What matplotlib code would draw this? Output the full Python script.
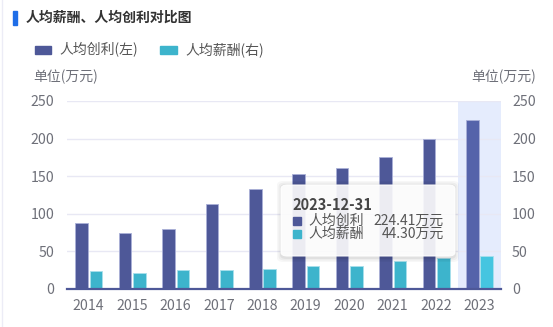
import matplotlib
matplotlib.use("Agg")
import matplotlib.pyplot as plt
from matplotlib.patches import FancyBboxPatch, Rectangle
import numpy as np

plt.rcParams['font.family'] = ['Noto Sans CJK SC', 'DejaVu Sans']

years = ['2014', '2015', '2016', '2017', '2018', '2019', '2020', '2021', '2022', '2023']
profit = [87.8, 74.0, 79.4, 113.0, 133.0, 152.5, 161.0, 175.0, 200.0, 224.41]
salary = [23.5, 21.7, 24.8, 24.8, 26.2, 30.0, 30.6, 36.8, 41.2, 44.30]
ticks = [0, 50, 100, 150, 200, 250]

W, H = 553, 327
fig = plt.figure(figsize=(W / 100, H / 100), dpi=100)
fig.patch.set_facecolor('white')

def fx(px):
    return px / W

def fy(py):
    return 1 - py / H

ax = fig.add_axes([fx(67), fy(289), fx(501) - fx(67), fy(101) - fy(289)])
ax2 = ax.twinx()

dark = '#4e5898'
cyan = '#3db4cc'
dark_hi = '#5563aa'
cyan_hi = '#45c5e0'

x = np.arange(len(years))
n = len(years)
ax.axvspan(n - 1.5, n - 0.5, color='#e5ecfd', zorder=0, lw=0)
for i in range(n):
    hi = i == n - 1
    ax.bar(x[i] - 0.163, profit[i], width=0.29, color=dark_hi if hi else dark,
           edgecolor='#aab0d8', linewidth=0.6, zorder=3)
    ax.bar(x[i] + 0.172, salary[i], width=0.29, color=cyan_hi if hi else cyan,
           edgecolor='#a8e0ec', linewidth=0.6, zorder=3)

ax.set_xlim(-0.5, n - 0.5)
ax.set_ylim(0, 250)
ax2.set_ylim(0, 250)
ax.set_yticks(ticks)
ax2.set_yticks(ticks)
ax.set_xticks(x)
ax.set_xticklabels(years)
ax.grid(axis='y', color='#e8e8f4', linewidth=1, zorder=1)
ax.set_axisbelow(True)
for a in (ax, ax2):
    for s in a.spines.values():
        s.set_visible(False)
    a.tick_params(length=0, labelsize=10.2, labelcolor='#6e7079')
ax.spines['bottom'].set_visible(True)
ax.spines['bottom'].set_color('#4e5898')
ax.spines['bottom'].set_linewidth(1.6)
ax.spines['bottom'].set_zorder(5)
ax.tick_params(axis='y', pad=9)
ax2.tick_params(axis='y', pad=8)
ax.tick_params(axis='x', pad=7)

# title
fig.patches.append(Rectangle((fx(13), fy(25)), fx(4), fy(11) - fy(25), color='#1f6ee8',
                             transform=fig.transFigure, figure=fig))
fig.text(fx(26), fy(18), '人均薪酬、人均创利对比图', fontsize=10, fontweight='bold',
         color='#333333', va='center', ha='left')
# left border line
fig.add_artist(plt.Line2D([fx(1.5), fx(1.5)], [0, 1], color='#ececf6', lw=1, transform=fig.transFigure))

# legend
fig.patches.append(Rectangle((fx(35), fy(54)), fx(16), fy(46) - fy(54), color=dark,
                             transform=fig.transFigure, figure=fig))
fig.text(fx(59), fy(49.5), '人均创利(左)', fontsize=10, color='#555555', va='center', ha='left')
fig.patches.append(Rectangle((fx(160), fy(54)), fx(17), fy(46) - fy(54), color=cyan,
                             transform=fig.transFigure, figure=fig))
fig.text(fx(185), fy(49.5), '人均薪酬(右)', fontsize=10, color='#555555', va='center', ha='left')

# units
fig.text(fx(33), fy(77), '单位(万元)', fontsize=10, color='#6e7079', va='center', ha='left')
fig.text(fx(536), fy(77), '单位(万元)', fontsize=10, color='#6e7079', va='center', ha='right')

# tooltip
for k, a in enumerate([0.05, 0.04, 0.03]):
    sh = FancyBboxPatch((fx(281 - 1 - k * 1.5), fy(257 + 2 + k * 1.5)),
                        fx(174 + 2 + k * 3), fy(185) - fy(257 + 3 + k * 3),
                        boxstyle='round,pad=0,rounding_size=0.012', transform=fig.transFigure,
                        facecolor='#000000', alpha=a, edgecolor='none', zorder=9)
    fig.add_artist(sh)
tip = FancyBboxPatch((fx(281), fy(256)), fx(174), fy(185) - fy(256),
                     boxstyle='round,pad=0,rounding_size=0.012', transform=fig.transFigure,
                     facecolor='white', alpha=0.9, edgecolor='#ffffff', lw=0.8, zorder=10)
fig.add_artist(tip)
fig.text(fx(292), fy(205), '2023-12-31', fontsize=10.5, fontweight='bold', color='#464646',
         va='center', ha='left', zorder=11)
rows = [('人均创利', '%.2f万元' % profit[-1], dark, 220.5),
        ('人均薪酬', '%.2f万元' % salary[-1], cyan, 233.5)]
for name, val, c, yy in rows:
    fig.add_artist(Rectangle((fx(293), fy(yy + 4)), fx(8), fy(yy - 4) - fy(yy + 4), color=c,
                             transform=fig.transFigure, zorder=11))
    fig.text(fx(308), fy(yy), name, fontsize=10, color='#555555', va='center', ha='left', zorder=11)
    fig.text(fx(444), fy(yy), val, fontsize=10, color='#555555', va='center', ha='right', zorder=11)

fig.savefig('out.png', dpi=100, facecolor='white')
